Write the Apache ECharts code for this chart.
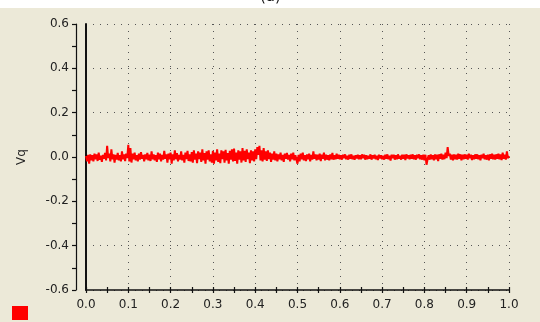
<!DOCTYPE html>
<html>
<head>
<meta charset="utf-8">
<script src="https://cdn.jsdelivr.net/npm/echarts@6/dist/echarts.min.js"></script>
<style>html,body{margin:0;padding:0;background:#fff}#c{width:540px;height:322px}</style>
</head>
<body>
<div id="c"></div>
<script>
const xStep = 0.0025;
const vq = [
  0.005,-0.02,0.01,-0.03,0.012,-0.015,0.008,-0.02,0.015,-0.01,
  0.012,-0.018,0.02,-0.012,0.006,-0.022,0.01,-0.008,0.018,-0.015,
  0.05,-0.005,0.015,-0.02,0.035,-0.01,0.012,-0.025,0.01,-0.012,
  0.018,-0.015,0.008,-0.02,0.025,-0.01,0.012,-0.018,0.015,-0.005,
  0.055,-0.02,0.04,-0.025,0.015,-0.01,0.02,-0.015,0.008,-0.02,
  0.015,-0.012,0.022,-0.008,0.01,-0.02,0.012,-0.01,0.018,-0.015,
  0.01,-0.018,0.025,-0.01,0.012,-0.015,0.008,-0.022,0.02,-0.01,
  0.015,-0.02,0.01,-0.012,0.028,-0.008,0.012,-0.025,0.015,-0.01,
  0.02,-0.03,0.012,-0.015,0.03,-0.01,0.018,-0.02,0.01,-0.012,
  0.025,-0.015,0.01,-0.025,0.02,-0.01,0.028,-0.018,0.012,-0.02,
  0.022,-0.025,0.03,-0.012,0.015,-0.028,0.025,-0.01,0.02,-0.022,
  0.035,-0.015,0.018,-0.03,0.025,-0.012,0.03,-0.02,0.012,-0.025,
  0.028,-0.03,0.02,-0.015,0.035,-0.022,0.015,-0.028,0.03,-0.01,
  0.025,-0.025,0.032,-0.015,0.018,-0.03,0.028,-0.012,0.035,-0.02,
  0.038,-0.018,0.02,-0.03,0.03,-0.012,0.025,-0.025,0.04,-0.015,
  0.028,-0.022,0.035,-0.01,0.02,-0.028,0.03,-0.015,0.025,-0.02,
  0.035,-0.01,0.045,0.01,0.05,-0.015,0.03,-0.02,0.04,-0.012,
  0.025,-0.018,0.03,-0.01,0.02,-0.022,0.015,-0.012,0.025,-0.015,
  0.015,-0.02,0.012,-0.01,0.02,-0.015,0.01,-0.022,0.015,-0.008,
  0.018,-0.012,0.01,-0.02,0.015,-0.01,0.02,-0.015,0.008,-0.012,
  -0.03,0.01,-0.02,0.015,-0.01,0.02,-0.015,0.008,-0.018,0.012,
  -0.01,0.015,-0.02,0.01,-0.012,0.025,-0.008,0.012,-0.015,0.01,
  -0.012,0.015,-0.018,0.01,-0.008,0.02,-0.015,0.01,-0.012,0.008,
  -0.015,0.012,-0.01,0.018,-0.012,0.008,-0.01,0.015,-0.008,0.01,
  -0.01,0.008,-0.012,0.01,-0.006,0.012,-0.01,0.006,-0.012,0.01,
  -0.008,0.012,-0.01,0.006,-0.012,0.008,-0.006,0.01,-0.01,0.008,
  -0.01,0.012,-0.006,0.01,-0.012,0.008,-0.01,0.006,-0.008,0.012,
  -0.012,0.008,-0.006,0.01,-0.01,0.006,-0.014,0.01,-0.006,0.008,
  -0.01,0.006,-0.012,0.01,-0.008,0.012,-0.01,0.006,-0.016,0.01,
  -0.006,0.01,-0.012,0.008,-0.01,0.012,-0.008,0.006,-0.012,0.01,
  -0.008,0.01,-0.014,0.012,-0.006,0.008,-0.01,0.01,-0.008,0.012,
  -0.01,0.008,-0.012,0.01,-0.006,0.012,-0.01,0.008,-0.012,0.01,
  -0.015,0.01,-0.035,-0.01,0.008,-0.012,0.012,-0.01,0.008,-0.015,
  0.012,-0.01,0.01,-0.018,0.012,-0.008,0.015,-0.012,0.01,-0.01,
  0.02,-0.005,0.045,0.005,0.015,-0.012,0.01,-0.015,0.012,-0.01,
  0.01,-0.012,0.015,-0.008,0.012,-0.015,0.01,-0.01,0.012,-0.008,
  0.01,-0.012,0.015,-0.006,0.01,-0.014,0.008,-0.01,0.012,-0.008,
  0.012,-0.01,0.008,-0.015,0.01,-0.006,0.015,-0.01,0.008,-0.012,
  0.01,-0.015,0.012,-0.008,0.015,-0.01,0.01,-0.012,0.012,-0.008,
  0.015,-0.01,0.012,-0.014,0.02,-0.008,0.01,-0.012,0.025,-0.005,
  0.005
];
const seriesData = vq.map((v, i) => [+(i * xStep).toFixed(4), v]);
const titleText = '(a)';
const yName = 'Vq';

const font = 'DejaVu Sans';
const chart = echarts.init(document.getElementById('c'), null, {renderer: 'canvas'});
chart.setOption({
  animation: false,
  backgroundColor: '#ECE9D8',
  graphic: [
    {type: 'rect', left: 0, top: 0, shape: {width: 540, height: 8}, style: {fill: '#ffffff'}, z: 10},
    {type: 'text', left: 260, top: -10, style: {text: titleText, font: '15px ' + font, fill: '#111'}, z: 11}
  ],
  legend: {
    left: 12, top: 306, itemWidth: 16, itemHeight: 14, icon: 'rect', padding: 0,
    formatter: () => '', data: [yName], itemGap: 0
  },
  grid: {left: 86, right: 31, top: 24, bottom: 32},
  xAxis: [{
    type: 'value', min: 0, max: 1, interval: 0.1, position: 'bottom',
    axisLine: {show: true, onZero: false, lineStyle: {color: '#111', width: 1.5}},
    axisTick: {show: true, length: 3, lineStyle: {color: '#111', width: 1.2}},
    minorTick: {show: true, splitNumber: 2, length: 3, lineStyle: {color: '#111', width: 1.2}},
    axisLabel: {margin: 9, color: '#222', fontFamily: font, fontSize: 12, formatter: v => v.toFixed(1)},
    splitLine: {show: true, lineStyle: {color: '#555', type: [1, 6], width: 1}}
  }, {
    type: 'value', min: 0, max: 1, interval: 0.1, position: 'bottom',
    axisLine: {show: false, onZero: false},
    axisTick: {show: true, inside: true, length: 3, lineStyle: {color: '#111', width: 1.2}},
    minorTick: {show: true, splitNumber: 2, length: 3, lineStyle: {color: '#111', width: 1.2}},
    axisLabel: {show: false}, splitLine: {show: false}
  }],
  yAxis: [{
    type: 'value', min: -0.6, max: 0.6, interval: 0.2, position: 'left', offset: 10,
    name: yName, nameLocation: 'middle', nameGap: 48, nameRotate: 90,
    nameTextStyle: {color: '#222', fontFamily: font, fontSize: 12},
    axisLine: {show: true, onZero: false, lineStyle: {color: '#111', width: 1.2}},
    axisTick: {show: true, length: 4, lineStyle: {color: '#111', width: 1.2}},
    minorTick: {show: true, splitNumber: 2, length: 4, lineStyle: {color: '#111', width: 1.2}},
    axisLabel: {margin: 7, color: '#222', fontFamily: font, fontSize: 12, formatter: v => v.toFixed(1)},
    splitLine: {show: false}
  }, {
    type: 'value', min: -0.6, max: 0.6, interval: 0.2, position: 'left', offset: 0,
    axisLine: {show: true, onZero: false, lineStyle: {color: '#111', width: 2}},
    axisTick: {show: false}, axisLabel: {show: false},
    splitLine: {show: true, lineStyle: {color: '#555', type: [1, 6], width: 1}}
  }],
  series: [{
    name: yName, type: 'line', xAxisIndex: 0, yAxisIndex: 0,
    data: seriesData, showSymbol: false, symbol: 'none',
    lineStyle: {color: '#ff0000', width: 2}, itemStyle: {color: '#ff0000'}, z: 5
  }]
});
</script>
</body>
</html>
